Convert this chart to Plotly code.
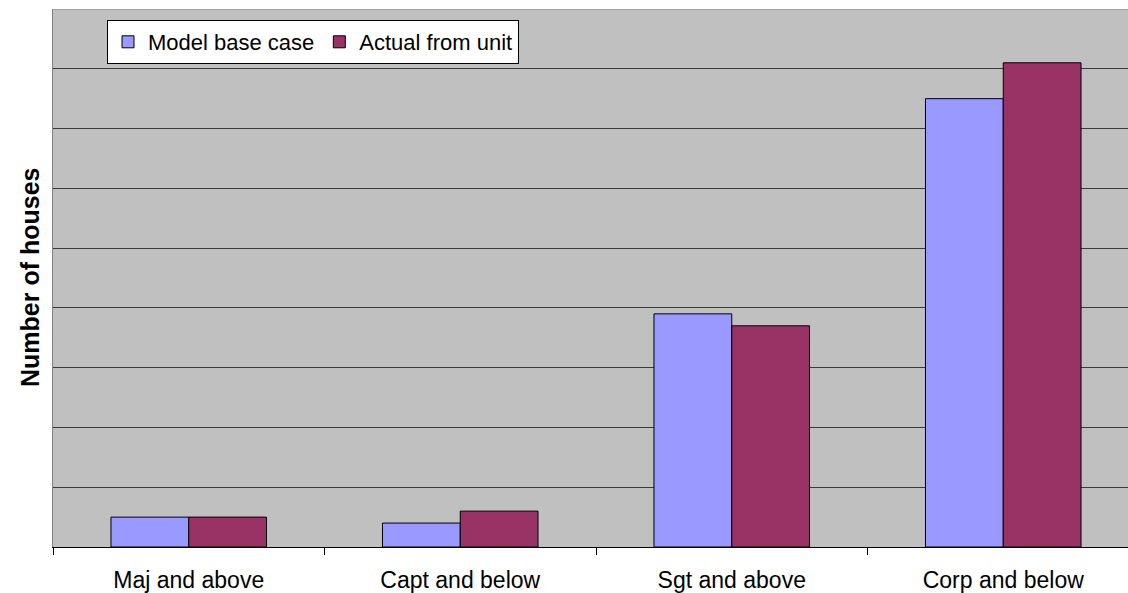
import plotly.graph_objects as go

# Chart data
categories = ["Maj and above", "Capt and below", "Sgt and above", "Corp and below"]
model_base_case = [5, 4, 39, 75]
actual_from_unit = [5, 6, 37, 81]

FONT = "Liberation Sans, Arial, sans-serif"

fig = go.Figure()
fig.add_trace(go.Bar(
    name="Model base case",
    x=categories,
    y=model_base_case,
    marker=dict(color="#9999FF", line=dict(color="#000000", width=1)),
))
fig.add_trace(go.Bar(
    name="Actual from unit",
    x=categories,
    y=actual_from_unit,
    marker=dict(color="#993366", line=dict(color="#000000", width=1)),
))

W, H = 1128, 593
ML, MR, MT, MB = 53, 0, 9, 46
plot_w = W - ML - MR
plot_h = H - MT - MB
cat_px = 271.5  # width of one category slot

fig.update_layout(
    width=W,
    height=H,
    margin=dict(l=ML, r=MR, t=MT, b=MB, pad=0),
    paper_bgcolor="#FFFFFF",
    plot_bgcolor="#C0C0C0",
    barmode="group",
    bargap=0.427,
    bargroupgap=0,
    font=dict(family=FONT, size=22, color="#000000"),
    showlegend=True,
    legend=dict(
        orientation="h",
        x=(107 - ML) / plot_w,
        y=1 - (20 - MT) / plot_h,
        xanchor="left",
        yanchor="top",
        bgcolor="#FFFFFF",
        bordercolor="#000000",
        borderwidth=1,
        font=dict(family=FONT, size=22, color="#000000"),
        itemwidth=30,
        tracegroupgap=0,
    ),
    xaxis=dict(
        type="category",
        range=[-0.5, -0.5 + plot_w / cat_px],
        tickson="boundaries",
        ticks="outside",
        ticklen=7,
        tickcolor="#000000",
        tickwidth=1,
        ticklabelstandoff=12,
        showgrid=False,
        showline=True,
        linecolor="#000000",
        linewidth=1,
        tickfont=dict(family=FONT, size=23, color="#000000"),
    ),
    yaxis=dict(
        range=[0, 90],
        dtick=10,
        showticklabels=False,
        ticks="",
        showgrid=True,
        gridcolor="#3A3A3A",
        gridwidth=1,
        zeroline=False,
        showline=True,
        linecolor="#808080",
        linewidth=1,
    ),
)

# Gray top border of the plot area
fig.add_shape(
    type="line", xref="paper", yref="y",
    x0=0, x1=1, y0=90, y1=90,
    line=dict(color="#808080", width=1),
    layer="above",
)

# Vertical axis title
fig.add_annotation(
    text="<b>Number of houses</b>",
    xref="paper", yref="paper",
    x=(30 - ML) / plot_w, y=0.5,
    xanchor="center", yanchor="middle",
    textangle=-90,
    showarrow=False,
    font=dict(family=FONT, size=25, color="#000000"),
)

fig.write_html("out.html")
